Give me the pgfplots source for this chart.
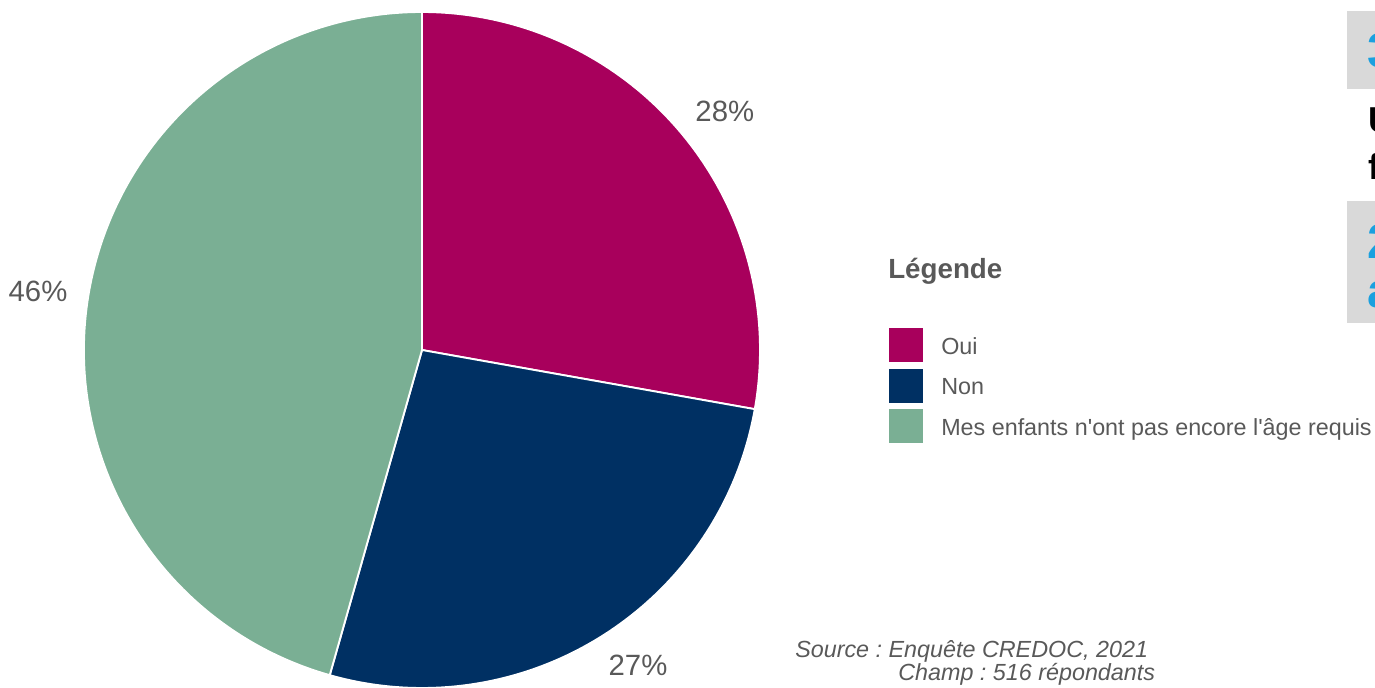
\documentclass[border=0pt]{standalone}
\usepackage{fontspec}
\setmainfont{Liberation Sans}
\usepackage{pgfplots}
\usepackage{pgfplotstable}
\pgfplotsset{compat=1.18}
\definecolor{oui}{RGB}{168,0,92}
\definecolor{non}{RGB}{0,48,99}
\definecolor{mes}{RGB}{122,175,148}
\definecolor{txt}{RGB}{89,89,89}
\definecolor{boxgray}{RGB}{217,217,217}
\definecolor{blueT}{RGB}{27,160,223}
\pgfplotstableread{
name value pct lx ly
Oui 27.8 28 0.896 0.707
Non 26.6 27 0.639 -0.932
Mes 45.6 46 -1.136 0.172
}\piedata
\begin{document}
\frenchspacing
\begin{tikzpicture}
\pgfplotstablegetelem{0}{value}\of\piedata\let\vA\pgfplotsretval
\pgfplotstablegetelem{1}{value}\of\piedata\let\vB\pgfplotsretval
\pgfplotstablegetelem{2}{value}\of\piedata\let\vC\pgfplotsretval
\pgfplotstablegetelem{0}{pct}\of\piedata\let\pA\pgfplotsretval
\pgfplotstablegetelem{1}{pct}\of\piedata\let\pB\pgfplotsretval
\pgfplotstablegetelem{2}{pct}\of\piedata\let\pC\pgfplotsretval
\pgfplotstablegetelem{0}{lx}\of\piedata\let\xA\pgfplotsretval
\pgfplotstablegetelem{1}{lx}\of\piedata\let\xB\pgfplotsretval
\pgfplotstablegetelem{2}{lx}\of\piedata\let\xC\pgfplotsretval
\pgfplotstablegetelem{0}{ly}\of\piedata\let\yA\pgfplotsretval
\pgfplotstablegetelem{1}{ly}\of\piedata\let\yB\pgfplotsretval
\pgfplotstablegetelem{2}{ly}\of\piedata\let\yC\pgfplotsretval
\pgfmathsetmacro\aA{90}
\pgfmathsetmacro\aB{\aA-3.6*\vA}
\pgfmathsetmacro\aC{\aB-3.6*\vB}
\pgfmathsetmacro\aD{\aC-3.6*\vC}
\useasboundingbox (0,0) rectangle (1031.25pt,515.25pt);
\begin{axis}[at={(316.5pt,252.75pt)}, anchor=center, scale only axis,
  width=507pt, height=507pt, xmin=-1, xmax=1, ymin=-1, ymax=1,
  hide axis, clip=false]
\addplot[draw=none, forget plot] coordinates {(0,0)};
\fill[oui, draw=white, line width=1.4pt, line join=round] (axis cs:0,0) -- (axis cs:{cos(\aA)},{sin(\aA)}) arc[start angle=\aA, end angle=\aB, radius=253.5pt] -- cycle;
\fill[non, draw=white, line width=1.4pt, line join=round] (axis cs:0,0) -- (axis cs:{cos(\aB)},{sin(\aB)}) arc[start angle=\aB, end angle=\aC, radius=253.5pt] -- cycle;
\fill[mes, draw=white, line width=1.4pt, line join=round] (axis cs:0,0) -- (axis cs:{cos(\aC)},{sin(\aC)}) arc[start angle=\aC, end angle=\aD, radius=253.5pt] -- cycle;
\node[text=txt, font=\fontsize{22}{22}\selectfont, inner sep=0] at (axis cs:\xA,\yA) {\pA\%};
\node[text=txt, font=\fontsize{22}{22}\selectfont, inner sep=0] at (axis cs:\xB,\yB) {\pB\%};
\node[text=txt, font=\fontsize{22}{22}\selectfont, inner sep=0] at (axis cs:\xC,\yC) {\pC\%};
\end{axis}
% legend
\node[anchor=base west, inner sep=0, text=txt, font=\fontsize{20.8}{20.8}\selectfont\bfseries] at (666pt,306.5pt) {Légende};
\fill[oui] (666.75pt,269.25pt) rectangle (692.25pt,243.75pt);
\fill[non] (666.75pt,238.75pt) rectangle (692.25pt,213.25pt);
\fill[mes] (666.75pt,208.75pt) rectangle (692.25pt,183.25pt);
\node[anchor=base west, inner sep=0, text=txt, font=\fontsize{17.5}{17.5}\selectfont] at (705.75pt,249.75pt) {Oui};
\node[anchor=base west, inner sep=0, text=txt, font=\fontsize{17.5}{17.5}\selectfont] at (705.75pt,219.75pt) {Non};
\node[anchor=base west, inner sep=0, text=txt, font=\fontsize{17.5}{17.5}\selectfont] at (705.75pt,189pt) {Mes enfants n\textquotesingle ont pas encore l\textquotesingle âge requis};
% source
\node[anchor=base west, inner sep=0, text=txt, font=\fontsize{17.5}{17.5}\selectfont\itshape] at (596.25pt,22.5pt) {Source : Enquête CREDOC, 2021};
\node[anchor=base west, inner sep=0, text=txt, font=\fontsize{17.5}{17.5}\selectfont\itshape] at (673.5pt,5.25pt) {Champ : 516 répondants};
% cut-off elements at right edge
\begin{scope}
\clip (0,0) rectangle (1031.25pt,515.25pt);
\fill[boxgray] (1010.25pt,507pt) rectangle (1040pt,448.5pt);
\fill[boxgray] (1010.25pt,364.5pt) rectangle (1040pt,273pt);
\node[anchor=base west, inner sep=0, text=blueT, font=\fontsize{36.7}{36.7}\selectfont\bfseries] at (1025.25pt,464.25pt) {3};
\node[anchor=base west, inner sep=0, text=black, font=\fontsize{27}{27}\selectfont\bfseries] at (1026pt,415.5pt) {U};
\node[anchor=base west, inner sep=0, text=black, font=\fontsize{27}{27}\selectfont\bfseries] at (1026pt,380.25pt) {f};
\node[anchor=base west, inner sep=0, text=blueT, font=\fontsize{36.7}{36.7}\selectfont\bfseries] at (1025.25pt,321.75pt) {2};
\node[anchor=base west, inner sep=0, text=blueT, font=\fontsize{36.7}{36.7}\selectfont\bfseries] at (1025.25pt,285pt) {a};
\end{scope}
\end{tikzpicture}
\end{document}
